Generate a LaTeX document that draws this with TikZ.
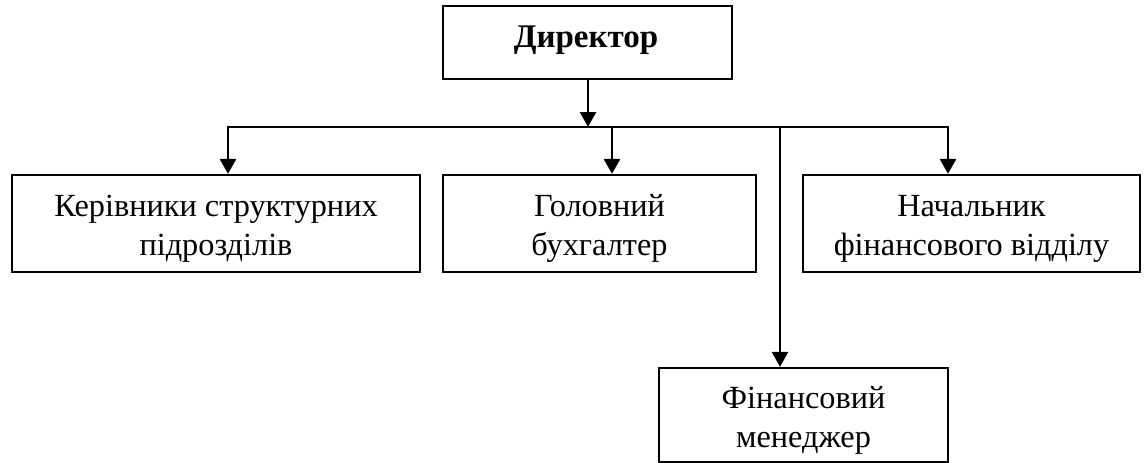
\documentclass[tikz,border=0pt]{standalone}
\usepackage{fontspec}
\setmainfont{Liberation Serif}
\usetikzlibrary{arrows.meta}
\tikzset{
  box/.style={draw, line width=2.1pt, inner sep=0pt},
  txt/.style={anchor=base, inner sep=0pt, font=\fontsize{32.3}{39}\selectfont},
  link/.style={line width=2.7pt},
  arr/.style={line width=2.7pt, -{Triangle[width=16pt,length=15pt]}}
}
\begin{document}
\begin{tikzpicture}[x=1pt,y=-1pt]
\useasboundingbox (0,0) rectangle (1144,463);
% boxes
\node[box, minimum width=289pt, minimum height=73pt] (dir) at (587.5,42.5) {};
\node[box, minimum width=408pt, minimum height=97pt] (ker) at (216,223.5) {};
\node[box, minimum width=313pt, minimum height=97pt] (gol) at (599.5,223.5) {};
\node[box, minimum width=337pt, minimum height=97pt] (nach) at (971.5,223.5) {};
\node[box, minimum width=289pt, minimum height=94pt] (fin) at (803.5,415) {};
% texts
\node[txt, font=\fontsize{33}{39}\selectfont\bfseries] (dirt) at (586,47) {Директор};
\node[txt] (ker1) at (216,216.5) {Керівники структурних};
\node[txt] (ker2) at (216,255.5) {підрозділів};
\node[txt] (gol1) at (599.5,216.5) {Головний};
\node[txt] (gol2) at (599.5,255.5) {бухгалтер};
\node[txt] (nach1) at (971.5,216.5) {Начальник};
\node[txt] (nach2) at (971.5,255.5) {фінансового відділу};
\node[txt] (fin1) at (803.5,408) {Фінансовий};
\node[txt] (fin2) at (803.5,447) {менеджер};
% connectors
\coordinate (hl) at (228,127);
\coordinate (hr) at (948,127);
\coordinate (hm) at (588,127);
\coordinate (hg) at (612,127);
\coordinate (hf) at (780,127);
\draw[link] ([xshift=-1.35pt]hl) -- ([xshift=1.35pt]hr);
\draw[arr] (dir.south -| hm) -- (hm);
\draw[arr] (hl) -- (hl |- ker.north);
\draw[arr] (hg) -- (hg |- gol.north);
\draw[arr] (hr) -- (hr |- nach.north);
\draw[arr] (hf) -- (hf |- fin.north);
\end{tikzpicture}
\end{document}
